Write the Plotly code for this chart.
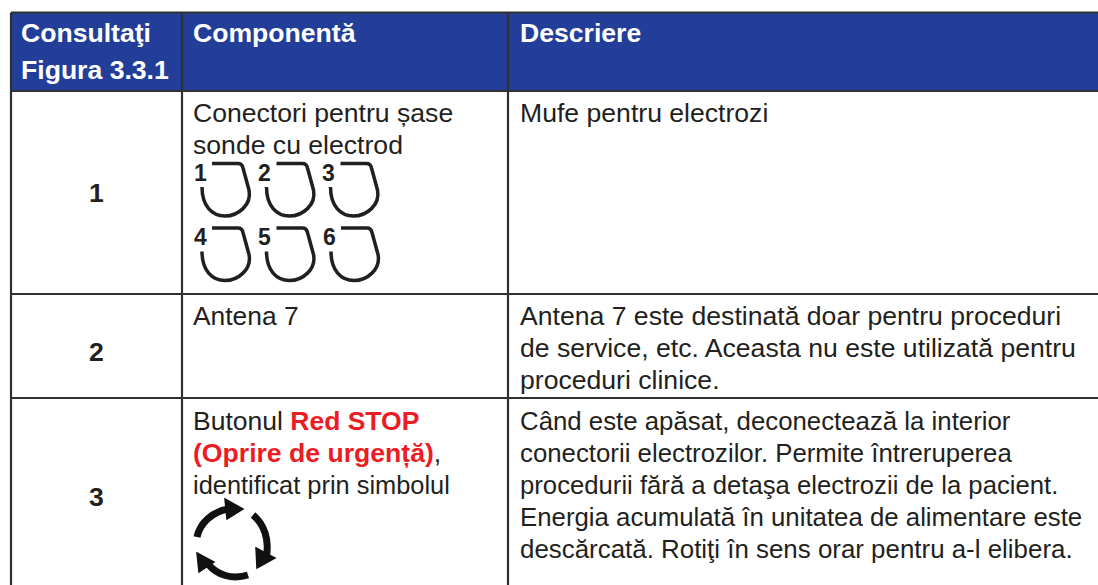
import plotly.graph_objects as go

W, H = 1098, 585
col_edges = [11, 182, 508]
row_edges = [12.5, 91, 294, 398]
header_color = "#233E99"
line_color = "#303030"
ink = "#231F20"
red = "#ED1C24"

header_lines = [
    (0, ["Consultaţi", "Figura 3.3.1"]),
    (1, ["Componentă"]),
    (2, ["Descriere"]),
]
row_ids = ["1", "2", "3"]
row_id_y = [193, 352, 497]
component_lines = [
    (113, "Conectori pentru șase", 26.6),
    (145, "sonde cu electrod", 26.6),
    (316, "Antena 7", 26.4),
    (421, f"Butonul <b><span style='color:{red}'>Red STOP</span></b>", 26.5),
    (453, f"<b><span style='color:{red}'>(Oprire de urgență)</span></b>,", 26.6),
    (485, "identificat prin simbolul", 25.4),
]
description_lines = [
    (113, "Mufe pentru electrozi", 26.6),
    (316, "Antena 7 este destinată doar pentru proceduri", 26.6),
    (348, "de service, etc. Aceasta nu este utilizată pentru", 26.6),
    (380, "proceduri clinice.", 26.6),
    (421, "Când este apăsat, deconectează la interior", 25.8),
    (453, "conectorii electrozilor. Permite întreruperea", 25.8),
    (485, "procedurii fără a detaşa electrozii de la pacient.", 25.7),
    (517, "Energia acumulată în unitatea de alimentare este", 25.8),
    (549, "descărcată. Rotiţi în sens orar pentru a-l elibera.", 25.9),
]
connector_numbers = ["1", "2", "3", "4", "5", "6"]
connector_x = [0, 64.5, 128.5, 0, 64.5, 129]
connector_y = [0, 0, 0, 64.5, 64.5, 64.5]

FONT = "Liberation Sans"
SIZE = 26.6

shapes = []
annotations = []


def text(x, y, s, size=SIZE, color=ink, bold=False, anchor="left", family=FONT):
    annotations.append(dict(
        x=x, y=y, xref="x", yref="y", text=f"<b>{s}</b>" if bold else s,
        showarrow=False, xanchor=anchor, yanchor="middle", align=anchor,
        font=dict(family=family, size=size, color=color),
        borderpad=0, borderwidth=0,
    ))


# header fill
shapes.append(dict(type="rect", xref="x", yref="y", x0=col_edges[0], x1=W, y0=row_edges[0], y1=row_edges[1],
                   fillcolor=header_color, line_width=0, layer="below"))
# grid
for x in col_edges:
    shapes.append(dict(type="line", xref="x", yref="y", x0=x, x1=x, y0=row_edges[0], y1=H,
                       line=dict(color=line_color, width=2.2)))
for y in row_edges:
    shapes.append(dict(type="line", xref="x", yref="y", x0=col_edges[0], x1=W, y0=y, y1=y,
                       line=dict(color=line_color, width=2.2)))

# header text
header_x = [21, 193, 520]
for col, lines in header_lines:
    for i, s in enumerate(lines):
        text(header_x[col], 33 + 37 * i, s, bold=True, color="white")

for s, y in zip(row_ids, row_id_y):
    text(96, y, s, bold=True, anchor="center")
for y, s, size in component_lines:
    text(193, y, s, size=size)
for y, s, size in description_lines:
    text(520, y, s, size=size)

# connector icons
for s, dx, dy in zip(connector_numbers, connector_x, connector_y):
    path = (f"M {212+dx} {163.5+dy} L {238+dx} {163.5+dy} Q {242+dx} {163.5+dy} {243+dx} {168+dy} "
            f"L {249+dx} {190+dy} C {252+dx} {205+dy} {238+dx} {216+dy} {225+dx} {216+dy} "
            f"C {212+dx} {216+dy} {202+dx} {206+dy} {202+dx} {187+dy}")
    shapes.append(dict(type="path", xref="x", yref="y", path=path, fillcolor="rgba(0,0,0,0)",
                       line=dict(color=ink, width=3.5)))
    text(200 + dx, 172.5 + dy, s, size=23, bold=True, anchor="center", family=FONT)

# reset symbol
arcs = [
    "M 197 537 C 200 523 212 512 228 509",
    "M 253 515 C 264 524 270 540 266 558",
    "M 248 575 C 232 580 217 575 208 564",
]
heads = [
    "M 225 499 L 243 509 L 227 519 Z",
    "M 256 548 L 275 558 L 257 568 Z",
    "M 197 553 L 214 562 L 199 572 Z",
]
for p in arcs:
    shapes.append(dict(type="path", xref="x", yref="y", path=p, fillcolor="rgba(0,0,0,0)",
                       line=dict(color="#111111", width=7)))
for p in heads:
    shapes.append(dict(type="path", xref="x", yref="y", path=p, fillcolor="#111111",
                       line=dict(color="#111111", width=1.5)))

fig = go.Figure()
fig.update_layout(
    width=W, height=H, margin=dict(l=0, r=0, t=0, b=0), autosize=False,
    paper_bgcolor="white", plot_bgcolor="white", showlegend=False,
    xaxis=dict(range=[0, W], visible=False, fixedrange=True),
    yaxis=dict(range=[H, 0], visible=False, fixedrange=True),
    shapes=shapes, annotations=annotations,
)
fig.write_html("out.html", config=dict(displayModeBar=False),
               post_script="document.body.style.margin='0';document.body.style.overflow='hidden';")
